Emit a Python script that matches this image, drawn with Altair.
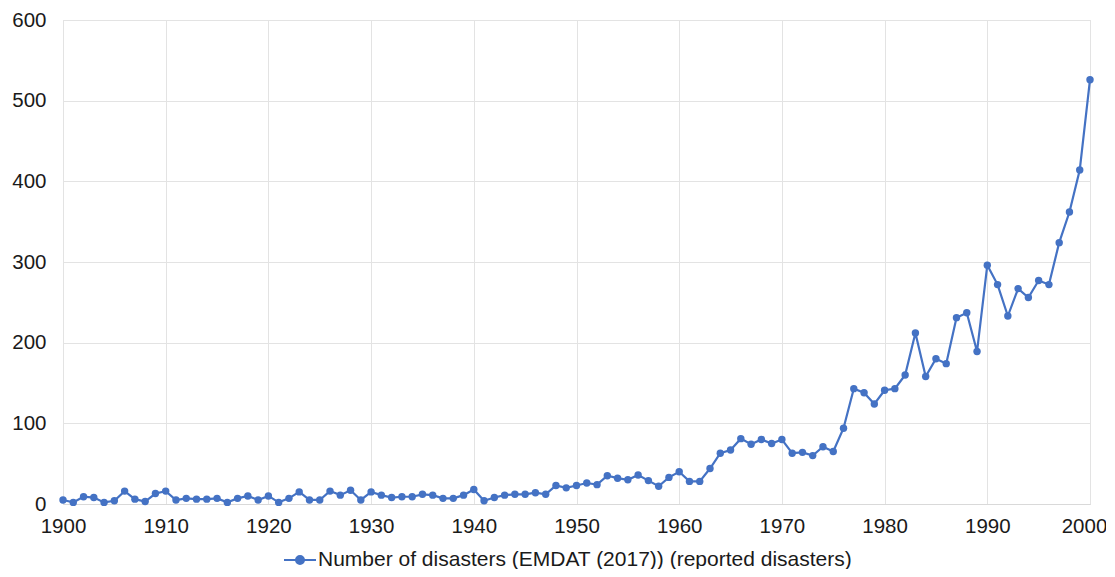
import altair as alt
import pandas as pd

years = list(range(1900, 2001))
disasters = [
    5, 2, 9, 8, 2, 4, 16, 6, 3, 13,
    16, 5, 7, 6, 6, 7, 2, 7, 10, 5,
    10, 2, 7, 15, 5, 5, 16, 11, 17, 5,
    15, 11, 8, 9, 9, 12, 11, 7, 7, 11,
    18, 4, 8, 11, 12, 12, 14, 12, 23, 20,
    23, 26, 24, 35, 32, 30, 36, 29, 22, 33,
    40, 28, 28, 44, 63, 67, 81, 74, 80, 75,
    80, 63, 64, 60, 71, 65, 94, 143, 138, 124,
    141, 143, 160, 212, 158, 180, 174, 231, 237, 189,
    296, 272, 233, 267, 256, 277, 272, 324, 362, 414,
    526,
]
series_name = "Number of disasters (EMDAT (2017)) (reported disasters)"
x_ticks = list(range(1900, 2001, 10))
y_ticks = [0, 100, 200, 300, 400, 500, 600]

df = pd.DataFrame({"year": years, "value": disasters, "series": series_name})

BLUE = "#4472C4"
FONT = "Liberation Sans"
TEXT = "#1a1a1a"

color = alt.Color(
    "series:N",
    scale=alt.Scale(range=[BLUE]),
    title=None,
    legend=alt.Legend(
        orient="none",
        legendX=220,
        legendY=523,
        padding=0,
        symbolType="M-1,0H1M0.25,0A0.25,0.25,0,1,1,-0.25,0A0.25,0.25,0,1,1,0.25,0Z",
        symbolSize=1024,
        symbolStrokeWidth=2,
        symbolFillColor=BLUE,
        symbolStrokeColor=BLUE,
        labelFontSize=21,
        labelFont=FONT,
        labelColor=TEXT,
        labelLimit=1000,
        labelOffset=1,
    ),
)

x = alt.X(
    "year:Q",
    scale=alt.Scale(domain=[1900, 2000], nice=False, zero=False),
    axis=alt.Axis(
        values=x_ticks, format="d", title=None, grid=True,
        labelFontSize=20.5, labelFont=FONT, labelColor=TEXT,
        labelPadding=12, ticks=False, domain=True, domainColor="#d9d9d9",
        gridColor="#e3e3e3", labelFlush=False,
        labelOffset={"condition": {"test": "datum.value == 2000", "value": -6}, "value": 0},
    ),
)
y = alt.Y(
    "value:Q",
    scale=alt.Scale(domain=[0, 600], nice=False),
    axis=alt.Axis(
        values=y_ticks, title=None, grid=True,
        labelFontSize=20.5, labelFont=FONT, labelColor=TEXT,
        labelPadding=17, ticks=False, domain=False, gridColor="#e3e3e3",
    ),
)

base = alt.Chart(df).encode(x=x, y=y, color=color)
line = base.mark_line(strokeWidth=2.2)
points = base.mark_point(filled=True, size=55, opacity=1)

chart = (
    alt.layer(line, points)
    .properties(
        width=1027, height=484,
        autosize=alt.AutoSizeParams(type="none"),
        padding={"left": 55, "top": 12, "right": 16, "bottom": 65},
    )
    .configure_view(stroke=None)
    .configure(background="white")
)

chart.save("out.html", embed_options={"renderer": "svg", "actions": False})
